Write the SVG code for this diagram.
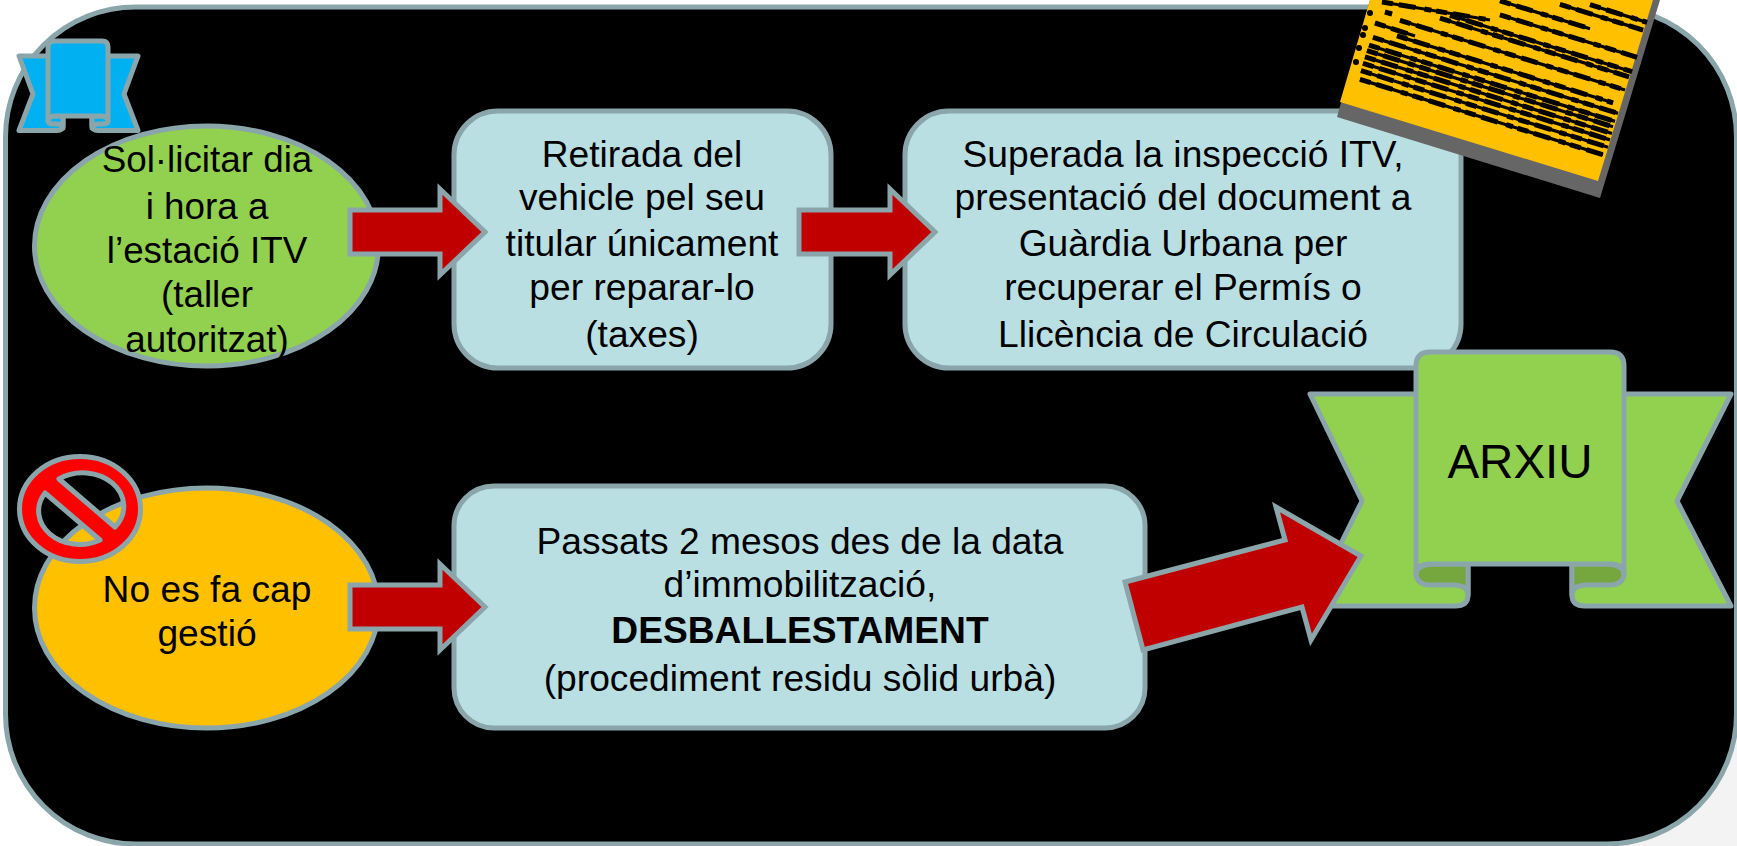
<svg xmlns="http://www.w3.org/2000/svg" width="1737" height="846" viewBox="0 0 1737 846">
<style>
.s{stroke:#8aa6ab;stroke-width:5;stroke-linejoin:round}
.m{stroke:#8aa6ab;stroke-width:5;stroke-linejoin:miter;stroke-miterlimit:10}
.a{fill:#c00000}
.b{fill:#b9dfe3}
.g{fill:#92d050}
.f{fill:#76a63e}
.bl{fill:#00b0f0}
.t{font-family:"Liberation Sans",Arial,sans-serif;font-size:37.2px;fill:#000;text-anchor:middle}
.l{fill:none;stroke:#000;stroke-width:3.2}
.w{fill:none;stroke:#000;stroke-width:5;stroke-dasharray:11 6 17 9 7 5}
</style>
<defs>
<path id="lines" d="M1360 79.400L1603 154.700M1361 70.700L1608 147.300M1363 63.300L1610 139.900M1365 56.900L1612 133.500M1367 50.600L1613 126.800M1369 45.200L1615 121.400M1373 37.400L1618 113.400M1397 35.900L1613 102.800M1375 23L1415 36M1400 20.300L1625 90M1440 18.200L1629 76.800M1450 15.300L1632 71.700M1500 14.800L1637 57.300M1500 .8L1590 28.700M1560 4.400L1643 30.100M1590 4.700L1647 22.400M1382 2L1490 20M1385 12L1392 14"/>
</defs>
<rect width="1737" height="846" fill="#fff"/>
<path d="M1640 790L1737 735V846H1560Z" fill="#eeeeee" opacity=".7"/>
<rect id="background" x="5.500" y="7" width="1731" height="837" rx="130" ry="130" fill="#000" class="s"/>
<g id="n1">
<ellipse cx="206.500" cy="246" rx="172" ry="120" class="g s"/>
<text class="t" style="font-size:36.800px"><tspan x="207" y="172">Sol·licitar dia</tspan><tspan x="207" y="219">i hora a</tspan><tspan x="207" y="263">l’estació ITV</tspan><tspan x="207" y="307">(taller</tspan><tspan x="207" y="352">autoritzat)</tspan></text>
</g>
<g id="n2">
<rect x="454" y="111" width="377" height="257" rx="44" class="b s"/>
<text class="t"><tspan x="642" y="167">Retirada del</tspan><tspan x="642" y="210">vehicle pel seu</tspan><tspan x="642" y="256">titular únicament</tspan><tspan x="642" y="300">per reparar-lo</tspan><tspan x="642" y="347">(taxes)</tspan></text>
</g>
<g id="n3">
<rect x="905" y="111" width="556" height="257" rx="44" class="b s"/>
<text class="t"><tspan x="1183" y="167">Superada la inspecció ITV,</tspan><tspan x="1183" y="210">presentació del document a</tspan><tspan x="1183" y="256">Guàrdia Urbana per</tspan><tspan x="1183" y="300">recuperar el Permís o</tspan><tspan x="1183" y="347">Llicència de Circulació</tspan></text>
</g>
<g id="doc">
<polygon points="1337,117 1600,198 1660,0 1370,0" fill="#666"/>
<polygon points="1340,102 1598,181 1653,0 1370,0" fill="#ffc000"/>
<use href="#lines" class="l"/>
<use href="#lines" class="w"/>
<path d="M1370 13v.1M1365 28v.1M1363 35v.1M1359 48v.1M1356 62v.1" stroke="#000" stroke-width="6" stroke-linecap="round" fill="none"/>
</g>
<g id="n4">
<ellipse cx="206.500" cy="608" rx="172" ry="120" fill="#ffc000" class="s"/>
<text class="t"><tspan x="207" y="602">No es fa cap</tspan><tspan x="207" y="646">gestió</tspan></text>
</g>
<g id="n5">
<rect x="454" y="486" width="691" height="242" rx="40" class="b s"/>
<text class="t"><tspan x="800" y="554">Passats 2 mesos des de la data</tspan><tspan x="800" y="597">d’immobilització,</tspan><tspan x="800" y="643" font-weight="bold">DESBALLESTAMENT</tspan><tspan x="800" y="691">(procediment residu sòlid urbà)</tspan></text>
</g>
<g id="arxiu">
<path class="g s" d="M1310 394H1468V595Q1468 606 1455 606H1310L1362 501Z"/>
<path class="g s" d="M1731 394H1572V595Q1572 606 1585 606H1731L1677 501Z"/>
<path class="f s" d="M1468 564H1430Q1416 566 1416 575Q1418 585 1430 585H1455Q1468 586 1468 595ZM1572 564H1610Q1624 566 1624 575Q1622 585 1610 585H1585Q1572 586 1572 595Z"/>
<path class="g s" d="M1416 366Q1416 352 1430 352H1610Q1624 352 1624 366V575Q1624 564 1610 564H1430Q1416 564 1416 575Z"/>
<text class="t" x="1520" y="478" style="font-size:47.500px">ARXIU</text>
</g>
<g id="ribbon">
<path class="bl s" d="M19 56H63V125Q63 130.500 57 130.500H19L33 94Z"/>
<path class="bl s" d="M138 56H92V125Q92 130.500 98 130.500H138L124 94Z"/>
<path class="bl s" d="M63 116H54Q48 117 48 121Q48 124 54 124H58Q63 124 63 128ZM92 116H102Q108 117 108 121Q108 124 102 124H98Q92 124 92 128Z"/>
<path class="bl s" d="M48 47Q48 41 54 41H102Q108 41 108 47V121Q108 116 102 116H54Q48 116 48 121Z"/>
</g>
<g id="forbidden">
<path fill="#f00" fill-rule="evenodd" class="s" d="M19.500 509a60.500 52.500 0 1 0 121 0a60.500 52.500 0 1 0 -121 0ZM59 479A41 33.500 0 0 1 115 527ZM45 493A41 33.500 0 0 0 100 540Z"/>
</g>
<g id="connectors">
<path class="a m" d="M350 210H440V189L485 232L440 275V254H350Z"/>
<path class="a m" d="M890 189L935 232L890 275V254H799V210H890Z"/>
<path class="a m" d="M350 585H440V564L485 607L440 650V629H350Z"/>
<path class="a m" d="M1125 582L1285 540L1276 507L1361 556L1311 640L1302 607L1143 650Z"/>
</g>
</svg>
